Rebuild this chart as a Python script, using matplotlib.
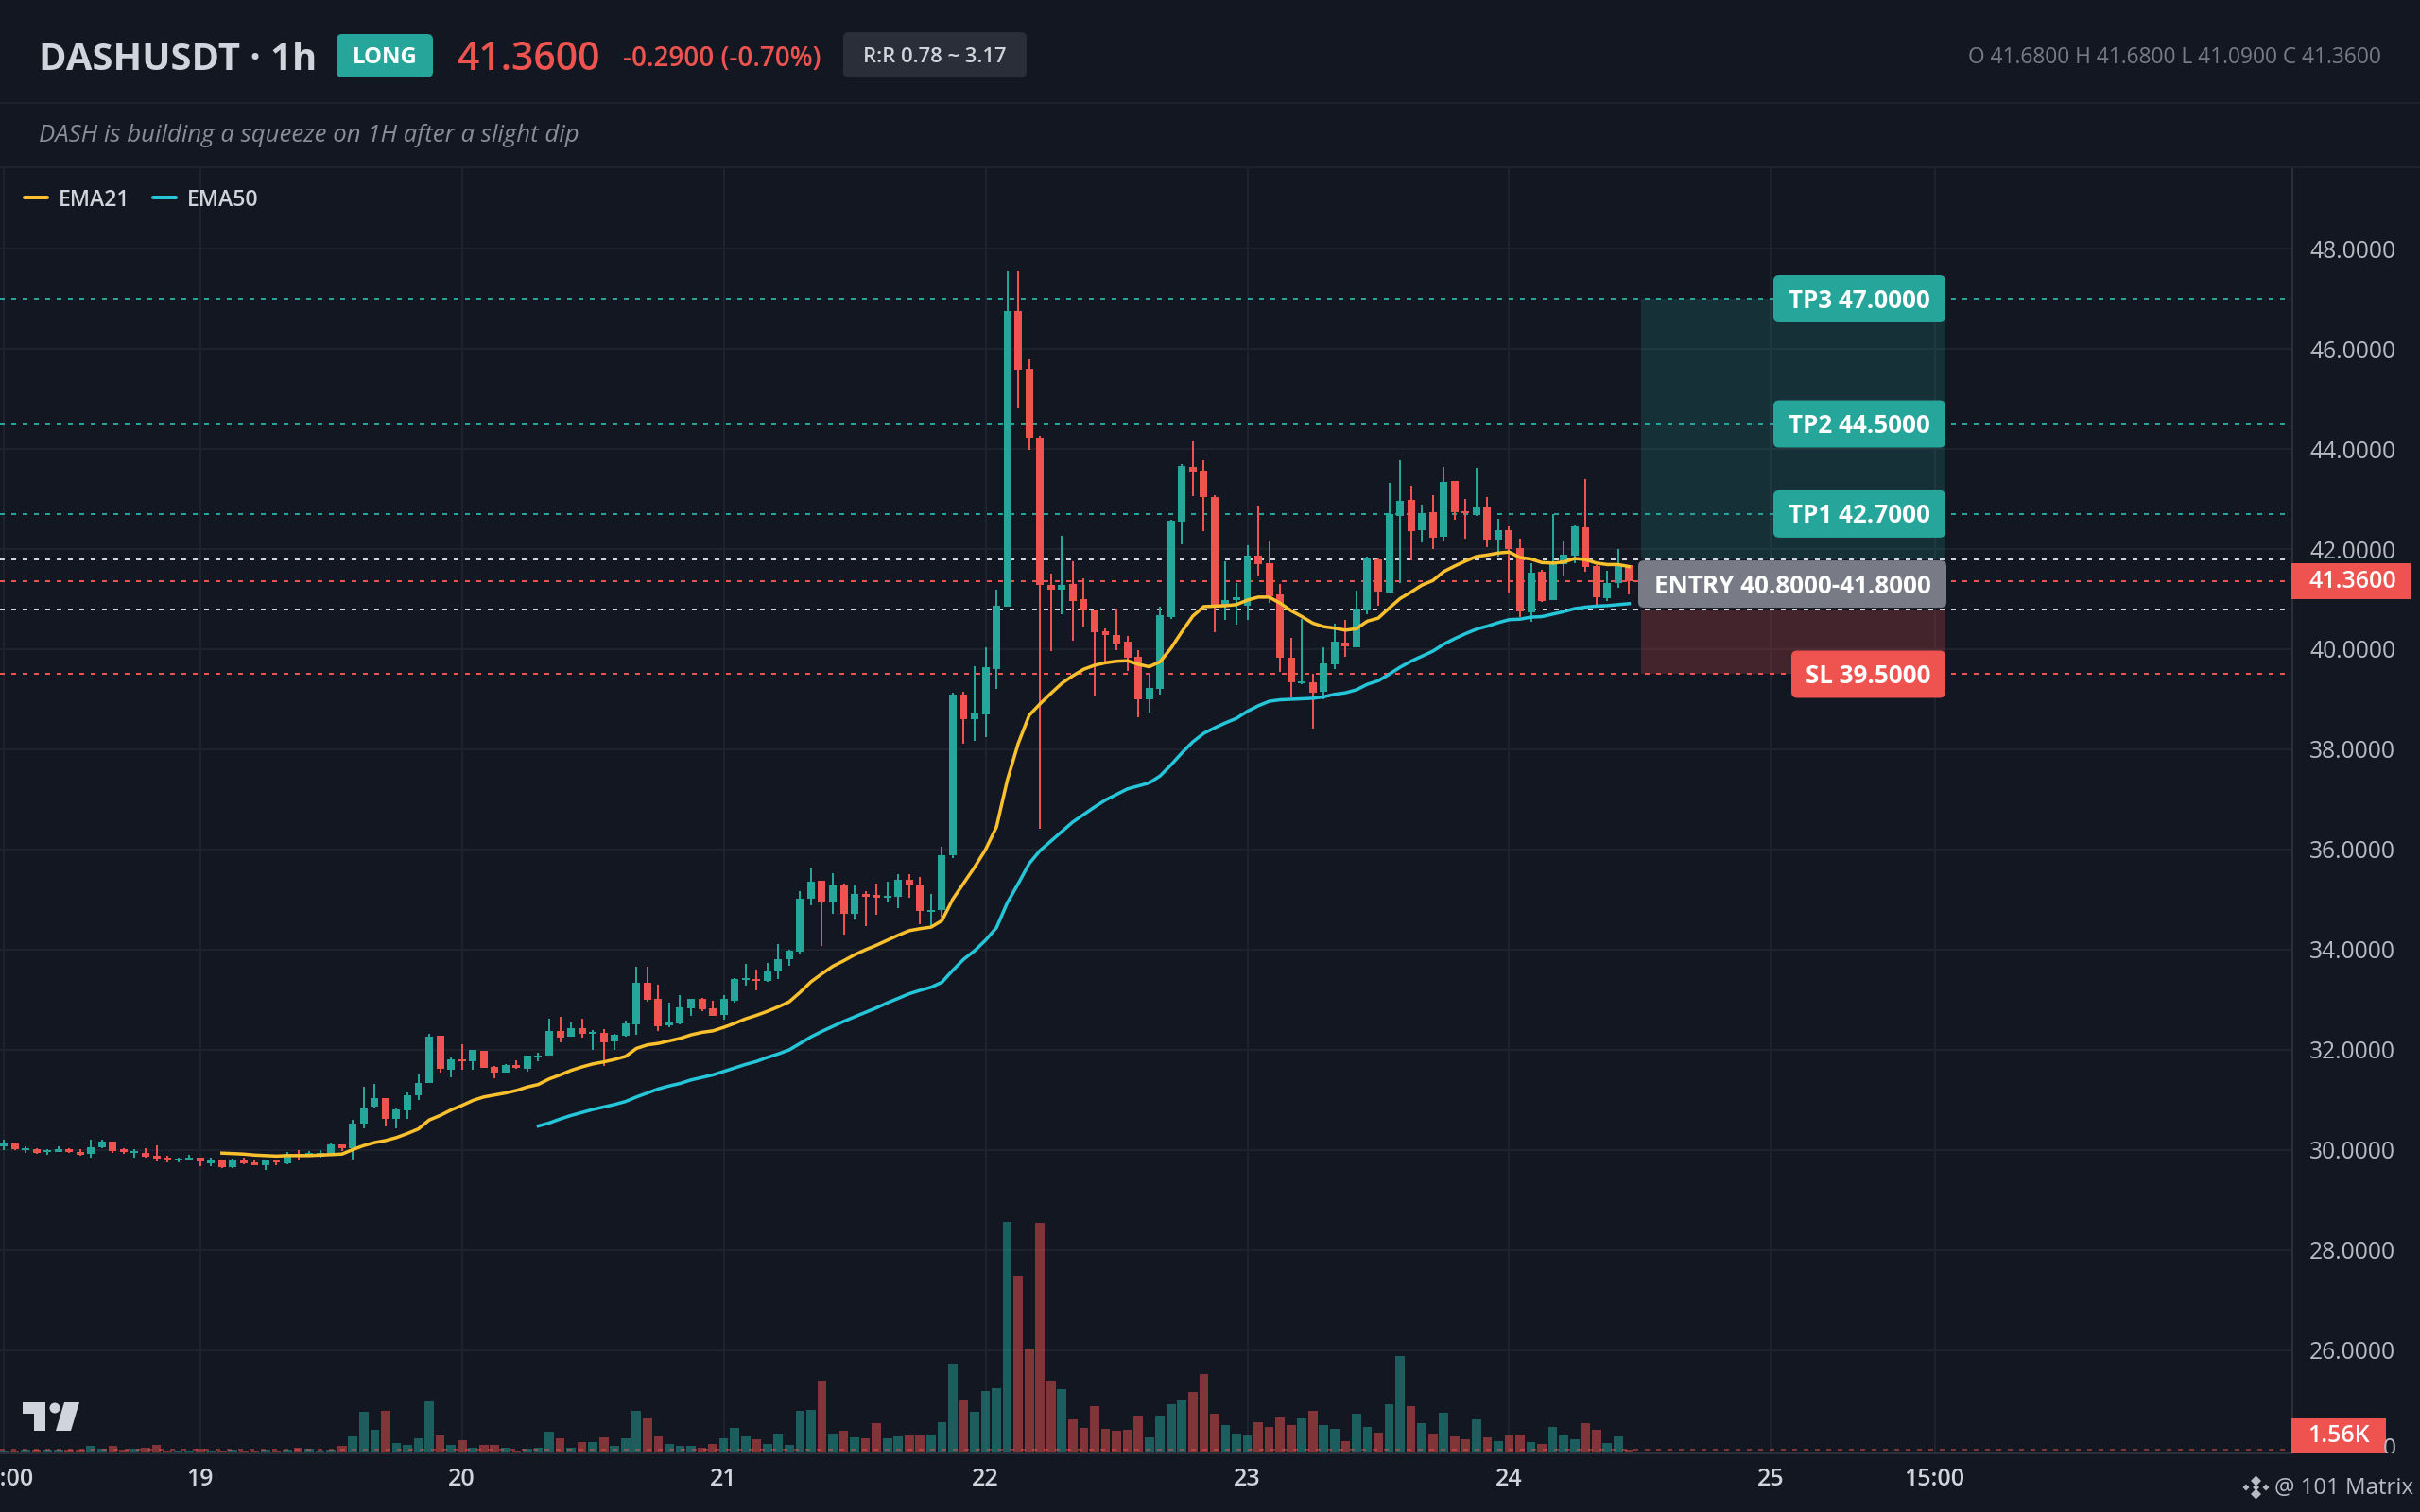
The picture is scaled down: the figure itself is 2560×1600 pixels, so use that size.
import matplotlib
matplotlib.use('Agg')
import matplotlib.pyplot as plt
import numpy as np
from matplotlib.patches import FancyBboxPatch, Polygon, Circle, Rectangle
from matplotlib.transforms import Bbox

plt.rcParams['font.family'] = ['Open Sans', 'DejaVu Sans']

# candles, 1h, first one is 18th 06:00
opens = [30.08, 30.14, 30.00, 30.02, 29.96, 29.96, 30.02, 29.96, 29.92, 30.06,
         30.17, 30.01, 29.94, 29.94, 29.89, 29.83, 29.79, 29.81, 29.85, 29.74,
         29.81, 29.66, 29.81, 29.75, 29.70, 29.79, 29.74, 29.92, 29.87, 29.87,
         29.92, 30.11, 30.04, 30.53, 30.87, 31.04, 30.62, 30.79, 31.09, 31.34,
         32.28, 31.60, 31.81, 31.77, 31.98, 31.66, 31.55, 31.70, 31.62, 31.85,
         31.89, 32.38, 32.26, 32.43, 32.32, 32.34, 32.17, 32.28, 32.51, 33.34,
         33.02, 32.49, 32.53, 32.83, 33.02, 32.83, 32.70, 32.98, 33.40, 33.41,
         33.38, 33.57, 33.81, 33.96, 35.02, 35.38, 34.94, 35.28, 34.72, 35.11,
         35.09, 35.03, 35.06, 35.40, 35.30, 34.75, 34.79, 35.89, 39.09, 38.60,
         38.70, 39.60, 40.84, 46.76, 45.58, 44.21, 41.28, 41.19, 41.30, 41.00,
         40.79, 40.35, 40.29, 40.15, 39.85, 39.00, 39.21, 40.64, 42.55, 43.64,
         43.57, 43.04, 40.87, 40.99, 40.87, 41.87, 41.72, 41.09, 39.83, 39.32,
         39.34, 39.15, 39.70, 40.13, 40.04, 40.79, 41.80, 41.13, 42.66, 42.98,
         42.38, 42.74, 42.25, 43.36, 42.75, 42.68, 42.85, 42.19, 42.38, 42.02,
         40.74, 41.55, 40.98, 41.70, 41.87, 42.43, 41.66, 41.02, 41.32, 41.68]
highs = [30.21, 30.15, 30.08, 30.04, 30.02, 30.08, 30.04, 30.02, 30.21, 30.21,
         30.17, 30.04, 30.02, 30.04, 30.09, 29.89, 29.85, 29.91, 29.85, 29.85,
         29.81, 29.83, 29.85, 29.81, 29.81, 29.81, 29.96, 30.00, 29.98, 30.00,
         30.15, 30.11, 30.60, 31.26, 31.32, 31.04, 30.83, 31.15, 31.51, 32.32,
         32.28, 31.85, 32.11, 32.00, 31.98, 31.68, 31.72, 31.79, 31.89, 31.94,
         32.62, 32.66, 32.55, 32.62, 32.40, 32.42, 32.32, 32.58, 33.66, 33.66,
         33.30, 32.94, 33.09, 33.02, 33.04, 32.98, 33.09, 33.43, 33.72, 33.60,
         33.74, 34.11, 34.00, 35.17, 35.62, 35.38, 35.53, 35.32, 35.28, 35.17,
         35.32, 35.36, 35.51, 35.51, 35.45, 35.11, 36.06, 39.13, 39.15, 39.66,
         40.04, 41.19, 47.55, 47.55, 45.79, 44.27, 41.51, 42.27, 41.76, 41.42,
         40.79, 40.42, 40.81, 40.26, 39.98, 39.51, 40.84, 42.59, 43.70, 44.15,
         43.77, 43.07, 41.76, 41.32, 42.08, 42.87, 42.17, 41.30, 40.23, 40.60,
         39.50, 40.04, 40.51, 40.59, 41.17, 41.85, 41.81, 43.32, 43.77, 43.26,
         42.89, 43.08, 43.64, 43.36, 43.00, 43.62, 43.04, 42.60, 42.45, 42.21,
         41.72, 41.58, 42.70, 42.17, 42.47, 43.40, 41.68, 41.57, 42.00, 41.68]
lows = [30.00, 30.00, 29.94, 29.92, 29.91, 29.96, 29.94, 29.89, 29.85, 30.04,
        29.94, 29.92, 29.85, 29.85, 29.77, 29.75, 29.75, 29.81, 29.68, 29.68,
        29.64, 29.64, 29.72, 29.70, 29.60, 29.70, 29.72, 29.79, 29.87, 29.85,
        29.92, 29.98, 29.81, 30.43, 30.83, 30.47, 30.43, 30.62, 31.00, 31.34,
        31.55, 31.45, 31.60, 31.60, 31.64, 31.43, 31.55, 31.62, 31.57, 31.77,
        31.89, 32.15, 32.26, 32.25, 32.00, 31.68, 32.00, 32.26, 32.30, 32.96,
        32.38, 32.45, 32.51, 32.68, 32.77, 32.68, 32.60, 32.94, 33.28, 33.19,
        33.36, 33.41, 33.68, 33.92, 34.89, 34.07, 34.72, 34.30, 34.60, 34.47,
        34.70, 34.94, 34.83, 35.04, 34.51, 34.47, 34.56, 35.83, 38.11, 38.17,
        38.25, 39.20, 40.84, 44.81, 43.98, 36.41, 39.97, 40.70, 40.17, 40.46,
        39.08, 39.70, 39.98, 39.57, 38.65, 38.74, 39.10, 40.60, 42.10, 43.06,
        42.36, 40.34, 40.58, 40.49, 40.58, 41.45, 40.92, 39.55, 39.03, 39.30,
        38.42, 39.00, 39.60, 39.85, 40.04, 40.70, 40.87, 41.11, 41.33, 41.77,
        42.13, 42.00, 42.17, 42.58, 42.21, 42.66, 42.04, 41.85, 41.11, 40.64,
        40.55, 40.94, 40.98, 41.45, 41.72, 41.55, 40.85, 40.96, 41.23, 41.09]
closes = [30.15, 30.02, 30.04, 29.94, 29.98, 30.02, 29.97, 29.91, 30.06, 30.17,
          29.98, 29.96, 29.96, 29.87, 29.83, 29.80, 29.81, 29.85, 29.77, 29.81,
          29.66, 29.81, 29.74, 29.70, 29.79, 29.75, 29.92, 29.87, 29.94, 29.94,
          30.11, 30.04, 30.53, 30.85, 31.04, 30.62, 30.81, 31.09, 31.34, 32.26,
          31.62, 31.81, 31.77, 32.00, 31.64, 31.55, 31.70, 31.64, 31.89, 31.89,
          32.38, 32.25, 32.43, 32.32, 32.36, 32.15, 32.30, 32.53, 33.34, 33.00,
          32.47, 32.55, 32.85, 33.02, 32.81, 32.68, 33.02, 33.41, 33.43, 33.38,
          33.58, 33.81, 33.98, 35.02, 35.36, 34.94, 35.28, 34.72, 35.11, 35.06,
          35.04, 35.07, 35.40, 35.30, 34.77, 34.79, 35.89, 39.09, 38.60, 38.72,
          39.64, 40.87, 46.76, 45.57, 44.21, 41.28, 41.19, 41.28, 40.96, 40.78,
          40.34, 40.29, 40.12, 39.83, 39.00, 39.22, 40.68, 42.57, 43.66, 43.54,
          43.04, 40.87, 40.98, 41.02, 41.87, 41.70, 41.05, 39.83, 39.34, 39.35,
          39.13, 39.72, 40.15, 40.06, 40.81, 41.83, 41.15, 42.70, 42.96, 42.36,
          42.72, 42.22, 43.34, 42.74, 42.72, 42.83, 42.19, 42.38, 42.00, 40.76,
          41.53, 40.96, 41.70, 41.89, 42.45, 41.64, 41.04, 41.32, 41.66, 41.36]
# volume in K
volumes = [1.04, 1.04, 1.56, 1.56, 1.39, 1.39, 1.56, 1.56, 3.64, 2.08,
           3.64, 1.56, 2.08, 2.60, 4.16, 1.04, 1.04, 1.04, 2.08, 1.04,
           1.04, 1.56, 1.04, 1.04, 1.39, 1.04, 1.56, 2.60, 2.08, 1.04,
           1.56, 3.64, 8.84, 22.36, 12.48, 22.88, 5.20, 4.16, 7.80, 28.08,
           9.36, 4.16, 6.76, 2.60, 4.16, 4.16, 2.60, 1.04, 2.08, 2.60,
           11.44, 7.80, 2.60, 5.72, 5.72, 8.32, 3.64, 7.80, 22.88, 18.72,
           8.84, 4.68, 3.64, 3.64, 2.60, 4.68, 7.80, 13.52, 8.84, 7.28,
           4.68, 10.40, 4.16, 22.88, 23.40, 39.50, 10.40, 11.96, 8.32, 7.80,
           16.12, 7.80, 8.84, 9.36, 9.36, 9.88, 16.64, 48.87, 28.60, 22.36,
           33.80, 35.35, 126.90, 97.20, 57.20, 126.30, 39.50, 34.83, 18.20, 13.52,
           25.48, 13.00, 11.96, 12.48, 20.28, 8.32, 20.28, 26.52, 28.60, 33.28,
           43.15, 21.32, 15.08, 10.40, 9.36, 16.64, 14.04, 19.24, 15.08, 18.72,
           22.88, 15.08, 13.00, 6.24, 21.32, 14.04, 10.90, 26.52, 53.03, 25.48,
           16.12, 10.40, 21.84, 8.84, 7.28, 18.20, 8.32, 6.24, 9.88, 9.88,
           5.72, 4.68, 14.04, 9.88, 7.28, 16.12, 12.48, 5.20, 8.84, 1.56]

ema21_start = 20
ema21 = [29.94, 29.93, 29.92, 29.90, 29.89, 29.88, 29.89, 29.89, 29.89, 29.90,
         29.91, 29.92, 30.01, 30.09, 30.15, 30.19, 30.25, 30.33, 30.42, 30.60,
         30.69, 30.80, 30.89, 30.99, 31.06, 31.10, 31.14, 31.19, 31.26, 31.31,
         31.42, 31.50, 31.59, 31.66, 31.72, 31.76, 31.81, 31.87, 32.03, 32.10,
         32.13, 32.18, 32.23, 32.30, 32.35, 32.38, 32.45, 32.53, 32.62, 32.69,
         32.77, 32.86, 32.96, 33.15, 33.36, 33.52, 33.67, 33.78, 33.90, 34.00,
         34.09, 34.19, 34.29, 34.38, 34.42, 34.45, 34.58, 35.01, 35.33, 35.65,
         36.00, 36.45, 37.39, 38.12, 38.68, 38.91, 39.12, 39.32, 39.47, 39.60,
         39.68, 39.73, 39.76, 39.77, 39.70, 39.65, 39.75, 40.02, 40.35, 40.66,
         40.85, 40.86, 40.87, 40.89, 40.98, 41.04, 41.04, 40.92, 40.77, 40.65,
         40.52, 40.45, 40.42, 40.38, 40.41, 40.56, 40.62, 40.82, 41.01, 41.14,
         41.28, 41.37, 41.55, 41.66, 41.76, 41.85, 41.88, 41.92, 41.94, 41.83,
         41.80, 41.73, 41.72, 41.74, 41.81, 41.79, 41.72, 41.69, 41.69, 41.65]
ema50_start = 49
ema50 = [30.48, 30.54, 30.62, 30.69, 30.75, 30.81, 30.86, 30.91, 30.97, 31.06,
         31.14, 31.22, 31.28, 31.33, 31.40, 31.45, 31.50, 31.57, 31.64, 31.71,
         31.77, 31.85, 31.92, 32.00, 32.13, 32.26, 32.37, 32.47, 32.57, 32.66,
         32.75, 32.84, 32.94, 33.03, 33.12, 33.19, 33.25, 33.35, 33.59, 33.81,
         33.98, 34.19, 34.44, 34.94, 35.32, 35.72, 35.98, 36.17, 36.36, 36.55,
         36.70, 36.85, 36.99, 37.10, 37.21, 37.27, 37.33, 37.47, 37.69, 37.93,
         38.15, 38.32, 38.43, 38.53, 38.62, 38.76, 38.87, 38.96, 38.99, 39.00,
         39.01, 39.02, 39.05, 39.10, 39.13, 39.19, 39.30, 39.37, 39.50, 39.64,
         39.76, 39.86, 39.96, 40.10, 40.21, 40.31, 40.40, 40.46, 40.53, 40.59,
         40.60, 40.64, 40.65, 40.70, 40.75, 40.81, 40.84, 40.86, 40.87, 40.89,
         40.91]

price_ticks = [26, 28, 30, 32, 34, 36, 38, 40, 42, 44, 46, 48]
time_ticks = [0, 18, 42, 66, 90, 114, 138, 162, 177]
time_labels = ['06:00', '19', '20', '21', '22', '23', '24', '25', '15:00']

tp_levels = [47.0, 44.5, 42.7]
tp_names = ['TP1 42.7000', 'TP2 44.5000', 'TP3 47.0000']
entry_low, entry_high = 40.8, 41.8
sl_level = 39.5
last_price = 41.36
last_volume = 1.56
zone_start, zone_end = 150.1, 178.0

BG = '#131722'
GRID = '#1e222c'
BORDER = '#2a2e39'
UP = '#26a69a'
DOWN = '#ef5350'
TEXT = '#d1d4dc'
MUTED = '#787b86'
EMA21_C = '#fbc02d'
EMA50_C = '#26c6da'


def px(v):
    # px to pt, figure is at dpi 100
    return v * 0.72


fig = plt.figure(figsize=(25.6, 16), dpi=100, facecolor=BG)
rect = [0, 62 / 1600, 2425 / 2560, 1360 / 1600]
ax = fig.add_axes(rect, facecolor=BG, zorder=1)
ax_vol = fig.add_axes(rect, zorder=2)
ax_vol.patch.set_alpha(0)

x = np.arange(len(closes))
o = np.array(opens)
h = np.array(highs)
l = np.array(lows)
c = np.array(closes)
colors = np.where(c >= o, UP, DOWN)

ax.set_xlim(-0.347, 209.8)
ax.set_ylim(23.943, 49.604)
ax_vol.set_xlim(-0.347, 209.8)
ax_vol.set_ylim(-0.52, 706.7)

# grid
for t in time_ticks:
    ax.axvline(t, color=GRID, lw=px(2), zorder=0)
for p in price_ticks:
    ax.axhline(p, color=GRID, lw=px(2), zorder=0)

# trade zones
ax.fill_between([zone_start, zone_end], entry_high, tp_levels[0], color=UP, alpha=0.18, lw=0, zorder=1)
ax.fill_between([zone_start, zone_end], sl_level, entry_low, color=DOWN, alpha=0.22, lw=0, zorder=1)

# level lines
dash = (0, (2.5, 3.5))
for lv in tp_levels:
    ax.axhline(lv, color=UP, lw=px(2), ls=dash, zorder=2)
ax.axhline(entry_high, color=TEXT, lw=px(2), ls=dash, zorder=2)
ax.axhline(entry_low, color=TEXT, lw=px(2), ls=dash, zorder=2)
ax.axhline(last_price, color=DOWN, lw=px(2), ls=dash, zorder=2)
ax.axhline(sl_level, color=DOWN, lw=px(2), ls=dash, zorder=2)

# candles
ax.vlines(x, l, h, colors=colors, lw=px(2), zorder=3)
ax.bar(x, np.maximum(np.abs(c - o), 0.04), bottom=np.minimum(o, c), width=0.69, color=colors, lw=0, zorder=4)

ax.plot(np.arange(len(ema21)) + ema21_start, ema21, color=EMA21_C, lw=px(3.5), zorder=5)
ax.plot(np.arange(len(ema50)) + ema50_start, ema50, color=EMA50_C, lw=px(3.5), zorder=5)

# volume
ax_vol.bar(x, volumes, width=0.84, color=colors, alpha=0.5, lw=0)
ax_vol.axhline(last_volume, color=DOWN, alpha=0.5, lw=px(2), ls=dash)
ax_vol.axis('off')

# axes
for s in ['left', 'top']:
    ax.spines[s].set_visible(False)
ax.spines['right'].set_color(BORDER)
ax.spines['bottom'].set_color(BORDER)
ax.spines['right'].set_linewidth(px(2))
ax.spines['bottom'].set_linewidth(px(2))
ax.yaxis.tick_right()
ax.set_yticks(price_ticks)
ax.set_yticklabels([f'{p:.4f}' for p in price_ticks])
ax.set_xticks(time_ticks)
ax.set_xticklabels(time_labels, fontweight='semibold')
ax.tick_params(axis='y', length=0, pad=px(18), labelsize=px(24.6), labelcolor='#b8bbc4')
ax.tick_params(axis='x', length=0, pad=px(15), labelsize=px(25), labelcolor=TEXT)

# everything placed by pixel goes on an overlay
ov = fig.add_axes([0, 0, 1, 1], zorder=5)
ov.set_xlim(0, 2560)
ov.set_ylim(1600, 0)
ov.axis('off')


def price_y(p):
    return 263 + (48 - p) * 53


def badge(x0, x1, y0, y1, color, r=6):
    ov.add_patch(FancyBboxPatch((x0, y0), x1 - x0, y1 - y0, boxstyle=f'round,pad=0,rounding_size={r}',
                                fc=color, ec='none'))


# header
ov.plot([0, 2560], [108.5, 108.5], color='#1e222c', lw=px(2))
ov.plot([0, 2560], [177, 177], color='#1e222c', lw=px(2))
ov.text(41, 64, 'DASHUSDT · 1h', color=TEXT, fontsize=px(40), fontweight='bold', va='center')
badge(356, 458, 36, 82, UP)
ov.text(407, 61, 'LONG', color='white', fontsize=px(24), fontweight='bold', ha='center', va='center')
ov.text(483, 63, f'{last_price:.4f}', color=DOWN, fontsize=px(41), fontweight='semibold', va='center')
ov.text(659, 62, '-0.2900 (-0.70%)', color=DOWN, fontsize=px(27.7), fontweight='semibold', va='center')
badge(892, 1086, 34, 82, BORDER)
ov.text(989, 61, 'R:R 0.78 ~ 3.17', color=TEXT, fontsize=px(22), fontweight='semibold', ha='center', va='center')
ov.text(2519, 61, 'O 41.6800 H 41.6800 L 41.0900 C 41.3600', color=MUTED, fontsize=px(22.7), ha='right', va='center')
ov.text(41, 144, 'DASH is building a squeeze on 1H after a slight dip', color='#8a8d98', fontsize=px(25.7),
        style='italic', va='center')

# legend
ov.plot([26, 50], [209, 209], color=EMA21_C, lw=px(4), solid_capstyle='round')
ov.text(62, 212, 'EMA21', color=TEXT, fontsize=px(23), fontweight='semibold', va='center')
ov.plot([162, 186], [209, 209], color=EMA50_C, lw=px(4), solid_capstyle='round')
ov.text(198, 212, 'EMA50', color=TEXT, fontsize=px(23), fontweight='semibold', va='center')

# level labels
for name, lv in zip(tp_names, sorted(tp_levels)):
    y = price_y(lv)
    badge(1876, 2058, y - 25, y + 25, UP)
    ov.text(1967, y + 2, name, color='white', fontsize=px(26), fontweight='bold', ha='center', va='center')
y = price_y((entry_low + entry_high) / 2)
badge(1733, 2059, y - 25, y + 25, MUTED)
ov.text(1896, y + 2, f'ENTRY {entry_low:.4f}-{entry_high:.4f}', color='white', fontsize=px(26), fontweight='bold',
        ha='center', va='center')
y = price_y(sl_level)
badge(1895, 2058, y - 25, y + 25, DOWN)
ov.text(1976, y + 2, f'SL {sl_level:.4f}', color='white', fontsize=px(26), fontweight='bold', ha='center', va='center')

# price and volume tags on the scale
ov.add_patch(Rectangle((2424, 596), 126, 38, fc=DOWN, ec='none'))
ov.text(2489, 615, f'{last_price:.4f}', color='white', fontsize=px(25), fontweight='semibold', ha='center', va='center')
zero = ov.text(2535, 1533, '0', color='#b8bbc4', fontsize=px(24.6), ha='right', va='center')
zero.set_clip_on(True)
zero.set_clip_box(Bbox([[2424, 62], [2560, 1600]]))
ov.add_patch(Rectangle((2424, 1501), 100, 37, fc=DOWN, ec='none'))
ov.text(2474, 1520, f'{last_volume:.2f}K', color='white', fontsize=px(25), fontweight='semibold', ha='center', va='center')

# tradingview mark
logo = '#d1d4dc'
ov.add_patch(Polygon([(24, 1484), (48, 1484), (48, 1514), (36, 1514), (36, 1496), (24, 1496)], fc=logo, ec='none'))
ov.add_patch(Circle((58, 1490), 5.5, fc=logo, ec='none'))
ov.add_patch(Polygon([(68, 1484), (84, 1484), (75, 1514), (59, 1514)], fc=logo, ec='none'))

# watermark
for cx, cy, s in [(2386.5, 1567, 5.5), (2386.5, 1581, 5.5), (2376, 1574, 3.5), (2397, 1574, 3.5), (2386.5, 1574, 3.5)]:
    ov.add_patch(Polygon([(cx - s, cy), (cx, cy - s), (cx + s, cy), (cx, cy + s)], fc='#b8bbc4', ec='none'))
ov.text(2406, 1575, '@ 101 Matrix', color='#b8bbc4', fontsize=px(24), va='center')

fig.savefig('out.png', dpi=100, facecolor=BG)
